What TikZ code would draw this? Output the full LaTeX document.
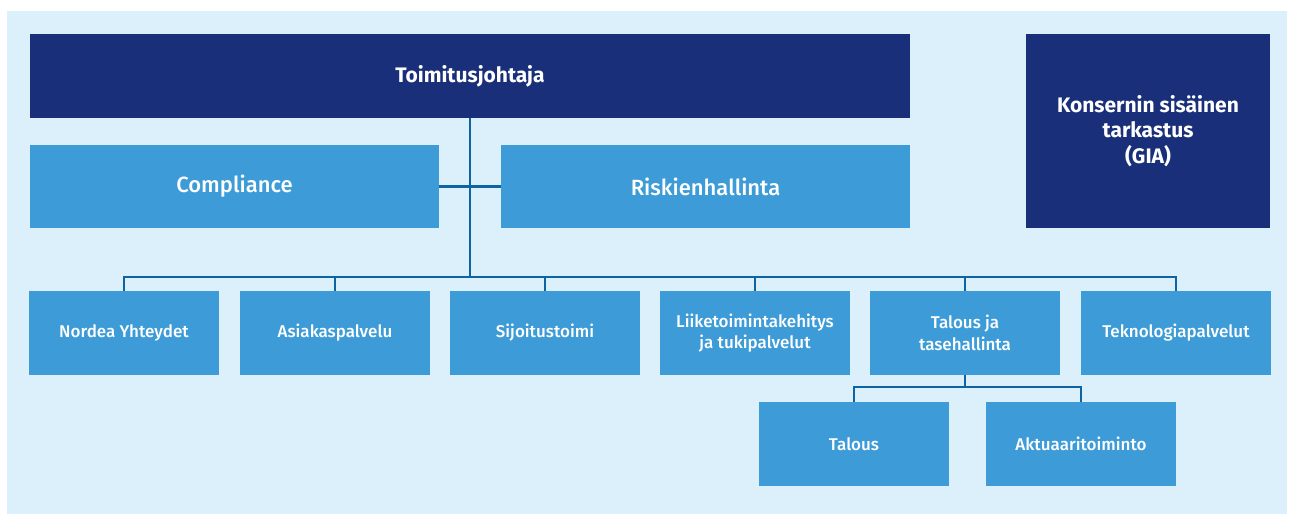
\documentclass[tikz,border=0pt]{standalone}
\usepackage{fontspec}
\setmainfont{Fira Sans}
\newfontfamily\medfont{Fira Sans Medium}
\newfontfamily\semifont{Fira Sans SemiBold}
\definecolor{bgblue}{HTML}{DBF0FB}
\definecolor{navy}{HTML}{1A2F7A}
\definecolor{midblue}{HTML}{3D9CD8}
\definecolor{linecol}{HTML}{0E64A3}
\begin{document}
\begin{tikzpicture}[x=1pt,y=-1pt,
  navybox/.style={fill=navy,text=white,inner sep=0pt,align=center},
  midbox/.style={fill=midblue,text=white,inner sep=0pt,align=center},
  conn/.style={draw=linecol,line width=2.6pt}]
\useasboundingbox (0,0) rectangle (1291,515);
\fill[white] (0,0) rectangle (1291,515);
\fill[bgblue] (7,11) rectangle (1287,514);
% top boxes
\node[navybox,minimum width=880,minimum height=84,font=\bfseries\fontsize{21}{25.5}\selectfont] (ceo) at (470,76) {Toimitusjohtaja};
\node[navybox,minimum width=244,minimum height=194,font=\bfseries\fontsize{21}{25.5}\selectfont] (gia) at (1148,131) {Konsernin sisäinen\\tarkastus\\(GIA)};
\node[midbox,minimum width=409,minimum height=83,font=\medfont\fontsize{22}{26}\selectfont] (comp) at (234.5,186.5) {Compliance};
\node[midbox,minimum width=409,minimum height=83,font=\medfont\fontsize{22}{26}\selectfont] (risk) at (705.5,186.5) {Riskienhallinta};
% bottom row
\tikzset{unit/.style={midbox,minimum width=190,minimum height=84,font=\medfont\fontsize{17}{21.5}\selectfont}}
\node[unit] (n1) at (124,333) {Nordea Yhteydet};
\node[unit] (n2) at (335,333) {Asiakaspalvelu};
\node[unit] (n3) at (545,333) {Sijoitustoimi};
\node[unit] (n4) at (755,333) {Liiketoimintakehitys\\ja tukipalvelut};
\node[unit] (n5) at (965,333) {Talous ja\\tasehallinta};
\node[unit] (n6) at (1176,333) {Teknologiapalvelut};
\node[unit] (s1) at (854,444) {Talous};
\node[unit] (s2) at (1081,444) {Aktuaaritoiminto};
% connectors
\coordinate (bus) at (470,277);
\draw[conn] (ceo.south) -- (bus);
\draw[conn] (comp.east) -- (risk.west);
\draw[conn] (n1.north) |- (bus) -| (n6.north);
\foreach \n in {n2,n3,n4,n5} \draw[conn] (\n.north) -- (\n.north |- bus);
\coordinate (sbus) at (965,387);
\draw[conn] (n5.south) -- (sbus);
\draw[conn] (s1.north) |- (sbus) -| (s2.north);
\end{tikzpicture}
\end{document}
